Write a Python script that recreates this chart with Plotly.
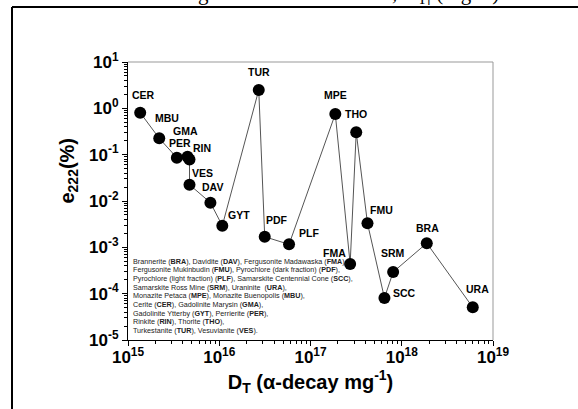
import numpy as np
import plotly.graph_objects as go

codes = ["CER", "MBU", "PER", "GMA", "RIN", "VES", "DAV", "GYT", "TUR", "PDF",
         "PLF", "MPE", "FMA", "THO", "FMU", "SCC", "SRM", "BRA", "URA"]
dose = [1.36e15, 2.2e15, 3.43e15, 4.49e15, 4.72e15, 4.72e15, 8.0e15, 1.08e16, 2.71e16, 3.15e16,
        5.82e16, 1.87e17, 2.72e17, 3.17e17, 4.21e17, 6.46e17, 8.05e17, 1.88e18, 6.0e18]
e222 = [0.805, 0.225, 0.086, 0.090, 0.079, 0.0225, 0.0092, 0.00293, 2.49, 0.00169,
        0.00116, 0.755, 4.37e-4, 0.304, 0.0033, 8.1e-5, 2.93e-4, 1.23e-3, 5.07e-5]

x_exponents = [15, 16, 17, 18, 19]
y_exponents = [1, 0, -1, -2, -3, -4, -5]

legend_lines = [
    "Brannerite (<b>BRA</b>), Davidite (<b>DAV</b>), Fergusonite Madawaska (<b>FMA</b>),",
    "Fergusonite Mukinbudin (<b>FMU</b>), Pyrochlore (dark fraction) (<b>PDF</b>),",
    "Pyrochlore (light fraction) (<b>PLF</b>), Samarskite Centennial Cone (<b>SCC</b>),",
    "Samarskite Ross Mine (<b>SRM</b>), Uraninite  (<b>URA</b>),",
    "Monazite Petaca (<b>MPE</b>), Monazite Buenopolis (<b>MBU</b>),",
    "Cerite (<b>CER</b>), Gadolinite Marysin (<b>GMA</b>),",
    "Gadolinite Ytterby (<b>GYT</b>), Perrierite (<b>PER</b>),",
    "Rinkite (<b>RIN</b>), Thorite (<b>THO</b>),",
    "Turkestanite (<b>TUR</b>), Vesuvianite (<b>VES</b>).",
]

# label offsets in pixels (style)
label_offsets = {
    "CER": (3, 18), "MBU": (8, 20), "PER": (3, 15), "GMA": (-2, 26), "RIN": (12, 11),
    "VES": (13, 12), "DAV": (2, 16), "GYT": (17, 11), "TUR": (0, 18), "PDF": (12, 17),
    "PLF": (20, 11), "MPE": (0, 19), "FMA": (-16, 11), "THO": (0, 18), "FMU": (14, 13),
    "SCC": (20, 5), "SRM": (0, 19), "BRA": (1, 15), "URA": (5, 18),
}

FONT = "Liberation Sans, Arial, sans-serif"

fig = go.Figure()
fig.add_trace(go.Scatter(
    x=dose, y=e222, mode="lines+markers",
    line=dict(color="#555555", width=1),
    marker=dict(color="black", size=12),
    showlegend=False, hoverinfo="skip",
))

annotations = []
for c, xv, yv in zip(codes, dose, e222):
    dx, dy = label_offsets[c]
    annotations.append(dict(
        x=np.log10(xv), y=np.log10(yv), xref="x", yref="y", text=c,
        showarrow=False, xshift=dx, yshift=dy,
        font=dict(family=FONT, size=10.5, color="black", weight="bold"),
    ))

for i, line in enumerate(legend_lines):
    annotations.append(dict(
        x=0.008, y=0.284, xref="paper", yref="paper", text=line,
        showarrow=False, xanchor="left", yanchor="middle", yshift=-8.7 * i,
        font=dict(family=FONT, size=7.2, color="#222222"),
    ))

# y-axis title as rotated annotation
annotations.append(dict(
    x=-0.164, y=0.61, xref="paper", yref="paper", text="e<sub>222</sub>(%)",
    textangle=-90, showarrow=False, xanchor="center", yanchor="middle",
    font=dict(family=FONT, size=20, color="black", weight="bold"),
))

annotations.append(dict(
    x=-0.35, y=1.244, xref="paper", yref="paper", xanchor="left", yanchor="middle",
    text="decrease with increasing total absorbed α dose, D<sub>T</sub>| (Fig. 5)",
    showarrow=False,
    font=dict(family="Liberation Serif, Times New Roman, serif", size=21, color="black"),
))

shapes = [
    dict(type="line", xref="paper", yref="paper", x0=0, x1=1, y0=1, y1=1,
         line=dict(color="#999999", width=1)),
    dict(type="line", xref="paper", yref="paper", x0=1, x1=1, y0=0, y1=1,
         line=dict(color="#999999", width=1)),
    dict(type="line", xref="paper", yref="paper", x0=-0.3178, x1=1.3, y0=1.1978, y1=1.1978,
         line=dict(color="black", width=2)),
    dict(type="line", xref="paper", yref="paper", x0=-0.3178, x1=-0.3178, y0=-0.3, y1=1.1978,
         line=dict(color="black", width=2)),
]


def axis_common(exps):
    return dict(
        type="log", tickmode="array",
        tickvals=[10.0 ** e for e in exps],
        ticktext=["10<sup>%d</sup>" % e for e in exps],
        showgrid=False, zeroline=False, automargin=False,
        showline=True, linecolor="black", linewidth=1, ticks="outside", ticklen=5,
        tickcolor="black", mirror=False,
        minor=dict(ticks="outside", ticklen=3, tickcolor="black", showgrid=False, dtick="D1"),
        tickfont=dict(family=FONT, size=17, color="black", weight="bold"),
    )


fig.update_layout(
    width=578, height=409,
    margin=dict(l=128, r=85, t=62, b=69),
    paper_bgcolor="white", plot_bgcolor="white",
    xaxis=dict(range=[15, 19.0], title=dict(text="D<sub>T</sub> (α-decay mg<sup>-1</sup>)",
               font=dict(family=FONT, size=20, color="black", weight="bold"), standoff=7),
               ticklabelstandoff=-3,
               **axis_common(x_exponents)),
    yaxis=dict(range=[-5, 1], **axis_common(y_exponents)),
    annotations=annotations, shapes=shapes,
)

fig.write_html("out.html", config={"displayModeBar": False},
               post_script="document.body.style.margin='0px';")
